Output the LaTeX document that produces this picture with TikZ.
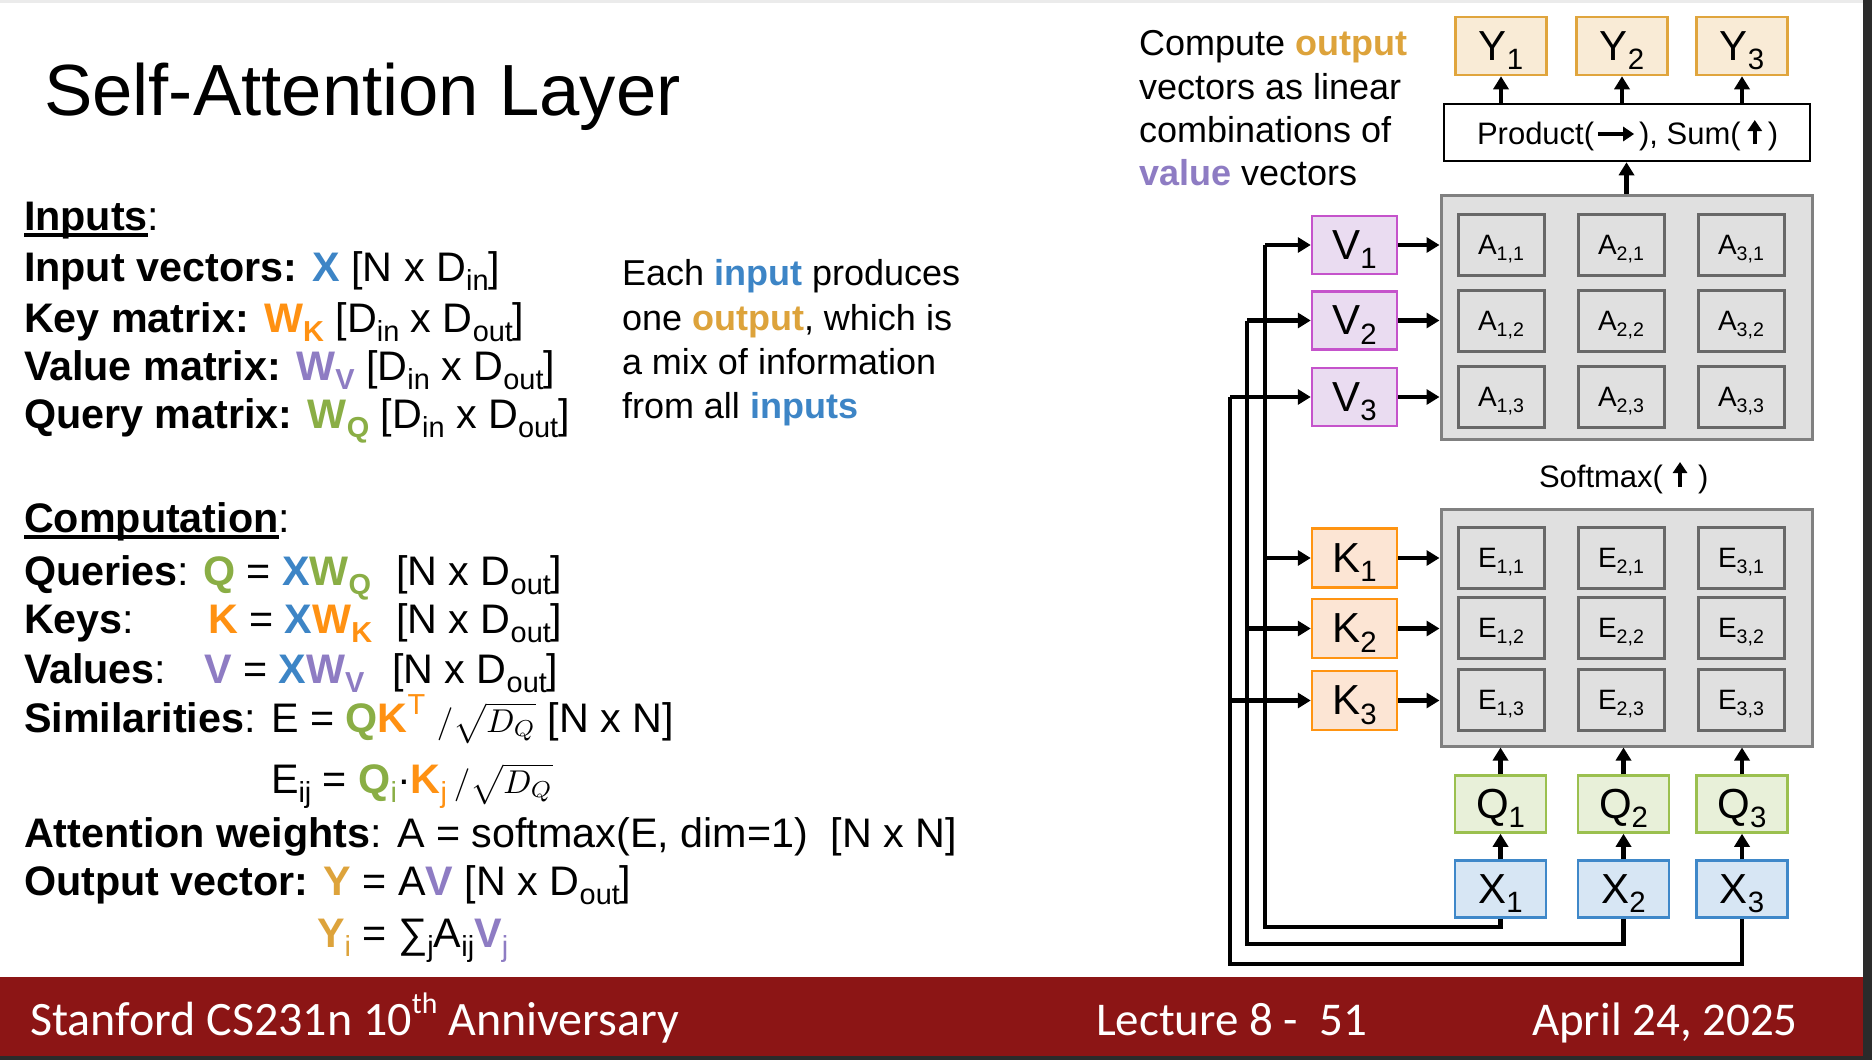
\documentclass[tikz,border=0pt]{standalone}
\usepackage{fontspec}
\setmainfont{Liberation Sans}
\newfontfamily\footfont{Carlito}
\usetikzlibrary{arrows.meta}
\definecolor{cblue}{HTML}{3D85C6}
\definecolor{corange}{HTML}{FF9112}
\definecolor{cpurple}{HTML}{8E7CC3}
\definecolor{cgreen}{HTML}{8AAE45}
\definecolor{cgold}{HTML}{DDA33B}
\definecolor{yfill}{HTML}{F9EBD6}
\definecolor{ydraw}{HTML}{E0A53D}
\definecolor{vfill}{HTML}{EADCF1}
\definecolor{vdraw}{HTML}{C553CB}
\definecolor{kfill}{HTML}{FCE5D4}
\definecolor{kdraw}{HTML}{FF9412}
\definecolor{qfill}{HTML}{E8F0D9}
\definecolor{qdraw}{HTML}{9BC04F}
\definecolor{xfill}{HTML}{D7E6F4}
\definecolor{xdraw}{HTML}{3F88C9}
\definecolor{grayfill}{HTML}{E0E0E0}
\definecolor{grayline}{HTML}{808080}
\definecolor{celline}{HTML}{686868}
\definecolor{footred}{HTML}{8C1515}
\definecolor{darkedge}{HTML}{2B2B2B}
\definecolor{topgray}{HTML}{EBEBEB}
\newcommand\dn[1]{\raisebox{-0.22em}{\scalebox{0.7}{#1}}}
\newcommand\up[1]{\raisebox{0.42em}{\scalebox{0.7}{#1}}}
\newcommand\sqd{\scalebox{3.3}{\fontsize{10}{12}\selectfont$/\sqrt{D_Q}$}}
\begin{document}
\begin{tikzpicture}[x=1pt,y=-1pt,
  txt/.style={anchor=base west, inner sep=0pt, outer sep=0pt},
  L/.style={txt, font=\fontsize{41.3}{48}\selectfont},
  M/.style={txt, font=\fontsize{36}{44}\selectfont},
  P/.style={txt, font=\fontsize{31}{31}\selectfont},
  bx/.style={draw, line width=2.5pt, minimum width=91pt, minimum height=57pt, inner sep=0pt, text depth=0pt, font=\fontsize{42}{42}\selectfont},
  ybox/.style={bx, fill=yfill, draw=ydraw, minimum height=58pt},
  qbox/.style={bx, fill=qfill, draw=qdraw},
  xbox/.style={bx, fill=xfill, draw=xdraw},
  vbox/.style={bx, minimum width=85pt, minimum height=58pt, fill=vfill, draw=vdraw},
  kbox/.style={bx, minimum width=85pt, minimum height=59pt, fill=kfill, draw=kdraw},
  grp/.style={draw=grayline, fill=grayfill, line width=3pt, inner sep=0pt, minimum width=371pt},
  cell/.style={draw=celline, fill=grayfill, line width=3pt, minimum width=86pt, minimum height=61pt, inner sep=0pt, text depth=0pt, font=\fontsize{28}{28}\selectfont},
  wire/.style={line width=4.5pt},
  arr/.style={wire, -{Triangle[length=13pt,width=15pt]}},
  garr/.style={line width=4pt, -{Triangle[length=11pt,width=14pt]}}
]
\useasboundingbox (0,0) rectangle (1872,1060);
\fill[white] (0,0) rectangle (1872,1060);
\fill[topgray] (0,0) rectangle (1863,3);
\fill[footred] (0,977) rectangle (1863,1056);
\fill[darkedge] (1863,0) rectangle (1872,1060);
\fill[darkedge] (0,1056) rectangle (1872,1060);

% title
\node[txt, font=\fontsize{72.5}{80}\selectfont] (title) at (44,115) {Self-Attention Layer};

% left text
\node[L] (inp) at (24,230) {\textbf{Inputs}};
\node[L] (inpc) at (inp.base east) {:};
\draw[line width=3.5pt] ([yshift=-5pt]inp.base west) -- ([yshift=-5pt]inp.base east);
\node[L] (l1) at (24,281) {\textbf{Input vectors:} \textbf{\textcolor{cblue}{X}} [N x D\dn{in}]};
\node[L] (l2) at (24,332) {\textbf{Key matrix:} \textcolor{corange}{\textbf{W}\dn{\textbf{K}}} [D\dn{in} x D\dn{out}]};
\node[L] (l3) at (24,380) {\textbf{Value matrix:} \textcolor{cpurple}{\textbf{W}\dn{\textbf{V}}} [D\dn{in} x D\dn{out}]};
\node[L] (l4) at (24,428) {\textbf{Query matrix:} \textcolor{cgreen}{\textbf{W}\dn{\textbf{Q}}} [D\dn{in} x D\dn{out}]};

\node[L] (comp) at (24,532) {\textbf{Computation}};
\node[L] (compc) at (comp.base east) {:};
\draw[line width=3.5pt] ([yshift=-5pt]comp.base west) -- ([yshift=-5pt]comp.base east);
\node[L] (q0) at (24,585) {\textbf{Queries}:};
\node[L] (q1) at (203,585) {\textcolor{cgreen}{\textbf{Q}} = \textcolor{cblue}{\textbf{X}}\textcolor{cgreen}{\textbf{W}\dn{\textbf{Q}}}};
\node[L] (q2) at (396,585) {[N x D\dn{out}]};
\node[L] (k0) at (24,633) {\textbf{Keys}:};
\node[L] (k1) at (208,633) {\textcolor{corange}{\textbf{K}} = \textcolor{cblue}{\textbf{X}}\textcolor{corange}{\textbf{W}\dn{\textbf{K}}}};
\node[L] (k2) at (396,633) {[N x D\dn{out}]};
\node[L] (v0) at (24,683) {\textbf{Values}:};
\node[L] (v1) at (204,683) {\textcolor{cpurple}{\textbf{V}} = \textcolor{cblue}{\textbf{X}}\textcolor{cpurple}{\textbf{W}\dn{\textbf{V}}}};
\node[L] (v2) at (392,683) {[N x D\dn{out}]};
\node[L] (s1) at (24,732) {\textbf{Similarities}: E = \textcolor{cgreen}{\textbf{Q}}\textcolor{corange}{\textbf{K}\up{T}} \sqd\ [N x N]};
\node[L] (e1) at (271,793) {E\dn{ij} = \textcolor{cgreen}{\textbf{Q}\dn{i}}·\textcolor{corange}{\textbf{K}\dn{j}}\,\sqd};
\node[L] (a1) at (24,847) {\textbf{Attention weights}: A = softmax(E, dim=1)\ \ [N x N]};
\node[L] (o1) at (24,895) {\textbf{Output vector:} \textcolor{cgold}{\textbf{Y}} = A\textcolor{cpurple}{\textbf{V}} [N x D\dn{out}]};
\node[L] (yi) at (317,947) {\textcolor{cgold}{\textbf{Y}\dn{i}} = ∑\dn{j}A\dn{ij}\textcolor{cpurple}{\textbf{V}\dn{j}}};

% middle text
\node[M] (m1) at (622,285) {Each \textbf{\textcolor{cblue}{input}} produces};
\node[M] (m2) at (622,330) {one \textbf{\textcolor{cgold}{output}}, which is};
\node[M] (m3) at (622,374) {a mix of information};
\node[M] (m4) at (622,418) {from all \textbf{\textcolor{cblue}{inputs}}};

% right text
\node[M] (r1) at (1139,55) {Compute \textbf{\textcolor{cgold}{output}}};
\node[M] (r2) at (1139,99) {vectors as linear};
\node[M] (r3) at (1139,142) {combinations of};
\node[M] (r4) at (1139,185) {\textbf{\textcolor{cpurple}{value}} vectors};

% group boxes
\node[grp, minimum height=244pt] (Abox) at (1626.5,317) {};
\node[grp, minimum height=237pt] (Ebox) at (1626.5,627.5) {};

% cells
\foreach \c/\cx in {1/1501,2/1621,3/1741}{
  \foreach \r/\ay/\ey in {1/245/558,2/320.5/628,3/396.5/700}{
    \node[cell] (A\c\r) at (\cx,\ay) {A\dn{\c,\r}};
    \node[cell] (E\c\r) at (\cx,\ey) {E\dn{\c,\r}};
  }
}

% Y, product
\node[ybox] (Y1) at (1501,46) {Y\dn{1}};
\node[ybox] (Y2) at (1622,46) {Y\dn{2}};
\node[ybox] (Y3) at (1742,46) {Y\dn{3}};
\node[draw, line width=2.5pt, fill=white, minimum width=366pt, minimum height=57pt, inner sep=0pt] (Prod) at (1627,132.5) {};
\node[P] (pt1) at (1477,144) {Product(};
\draw[garr] ([xshift=4pt,yshift=10pt]pt1.base east) -- ++(36,0);
\node[P] (pt2) at ([xshift=45pt]pt1.base east) {), Sum(};
\draw[garr] ([xshift=14pt]pt2.base east) -- ++(0,-24);
\node[P] (pt3) at ([xshift=27pt]pt2.base east) {)};

\node[P] (sm1) at (1539,487) {Softmax(};
\draw[garr] ([xshift=17pt]sm1.base east) -- ++(0,-25);
\node[P] (sm2) at ([xshift=35pt]sm1.base east) {)};

% V, K
\node[vbox] (V1) at (1354.5,245) {V\dn{1}};
\node[vbox] (V2) at (1354.5,320.5) {V\dn{2}};
\node[vbox] (V3) at (1354.5,397) {V\dn{3}};
\node[kbox] (K1) at (1354.5,558) {K\dn{1}};
\node[kbox] (K2) at (1354.5,628.5) {K\dn{2}};
\node[kbox] (K3) at (1354.5,700.5) {K\dn{3}};

% Q, X
\node[qbox] (Q1) at (1500.5,804) {Q\dn{1}};
\node[qbox] (Q2) at (1623.5,804) {Q\dn{2}};
\node[qbox] (Q3) at (1742,804) {Q\dn{3}};
\node[xbox] (X1) at (1500.5,889) {X\dn{1}};
\node[xbox] (X2) at (1623.5,889) {X\dn{2}};
\node[xbox] (X3) at (1742,889) {X\dn{3}};

% wire coordinates
\coordinate (b1) at (1265,927);
\coordinate (b2) at (1247,944);
\coordinate (b3) at (1230,964);
\coordinate (t1) at (1265,245);
\coordinate (t2) at (1247,320.5);
\coordinate (t3) at (1230,397);

\draw[wire] (X1.south) |- (b1) -- (t1);
\draw[wire] (X2.south) |- (b2) -- (t2);
\draw[wire] (X3.south) |- (b3) -- (t3);

\draw[arr] (t1) -- (V1.west);
\draw[arr] (t2) -- (V2.west);
\draw[arr] (t3) -- (V3.west);
\draw[arr] (t1 |- K1) -- (K1.west);
\draw[arr] (t2 |- K2) -- (K2.west);
\draw[arr] (t3 |- K3) -- (K3.west);

\foreach \i in {1,2,3}{
  \draw[arr] (V\i.east) -- (V\i.east -| Abox.west);
  \draw[arr] (K\i.east) -- (K\i.east -| Ebox.west);
  \draw[arr] (X\i.north) -- (Q\i.south);
  \draw[arr] (Q\i.north) -- (Q\i.north |- Ebox.south);
  \draw[arr] (Y\i.south |- Prod.north) -- (Y\i.south);
}
\draw[arr] (Abox.north) -- (Abox.north |- Prod.south);

% footer
\node[txt, font=\footfont\fontsize{48}{50}\selectfont, text=white] (f1) at (30,1035) {Stanford CS231n 10\raisebox{0.45em}{\scalebox{0.62}{th}} Anniversary};
\node[txt, font=\footfont\fontsize{47}{50}\selectfont, text=white] (f2) at (1096,1035) {Lecture 8 -\ \ 51};
\node[txt, font=\footfont\fontsize{47}{50}\selectfont, text=white] (f3) at (1532,1035) {April 24, 2025};
\end{tikzpicture}
\end{document}
